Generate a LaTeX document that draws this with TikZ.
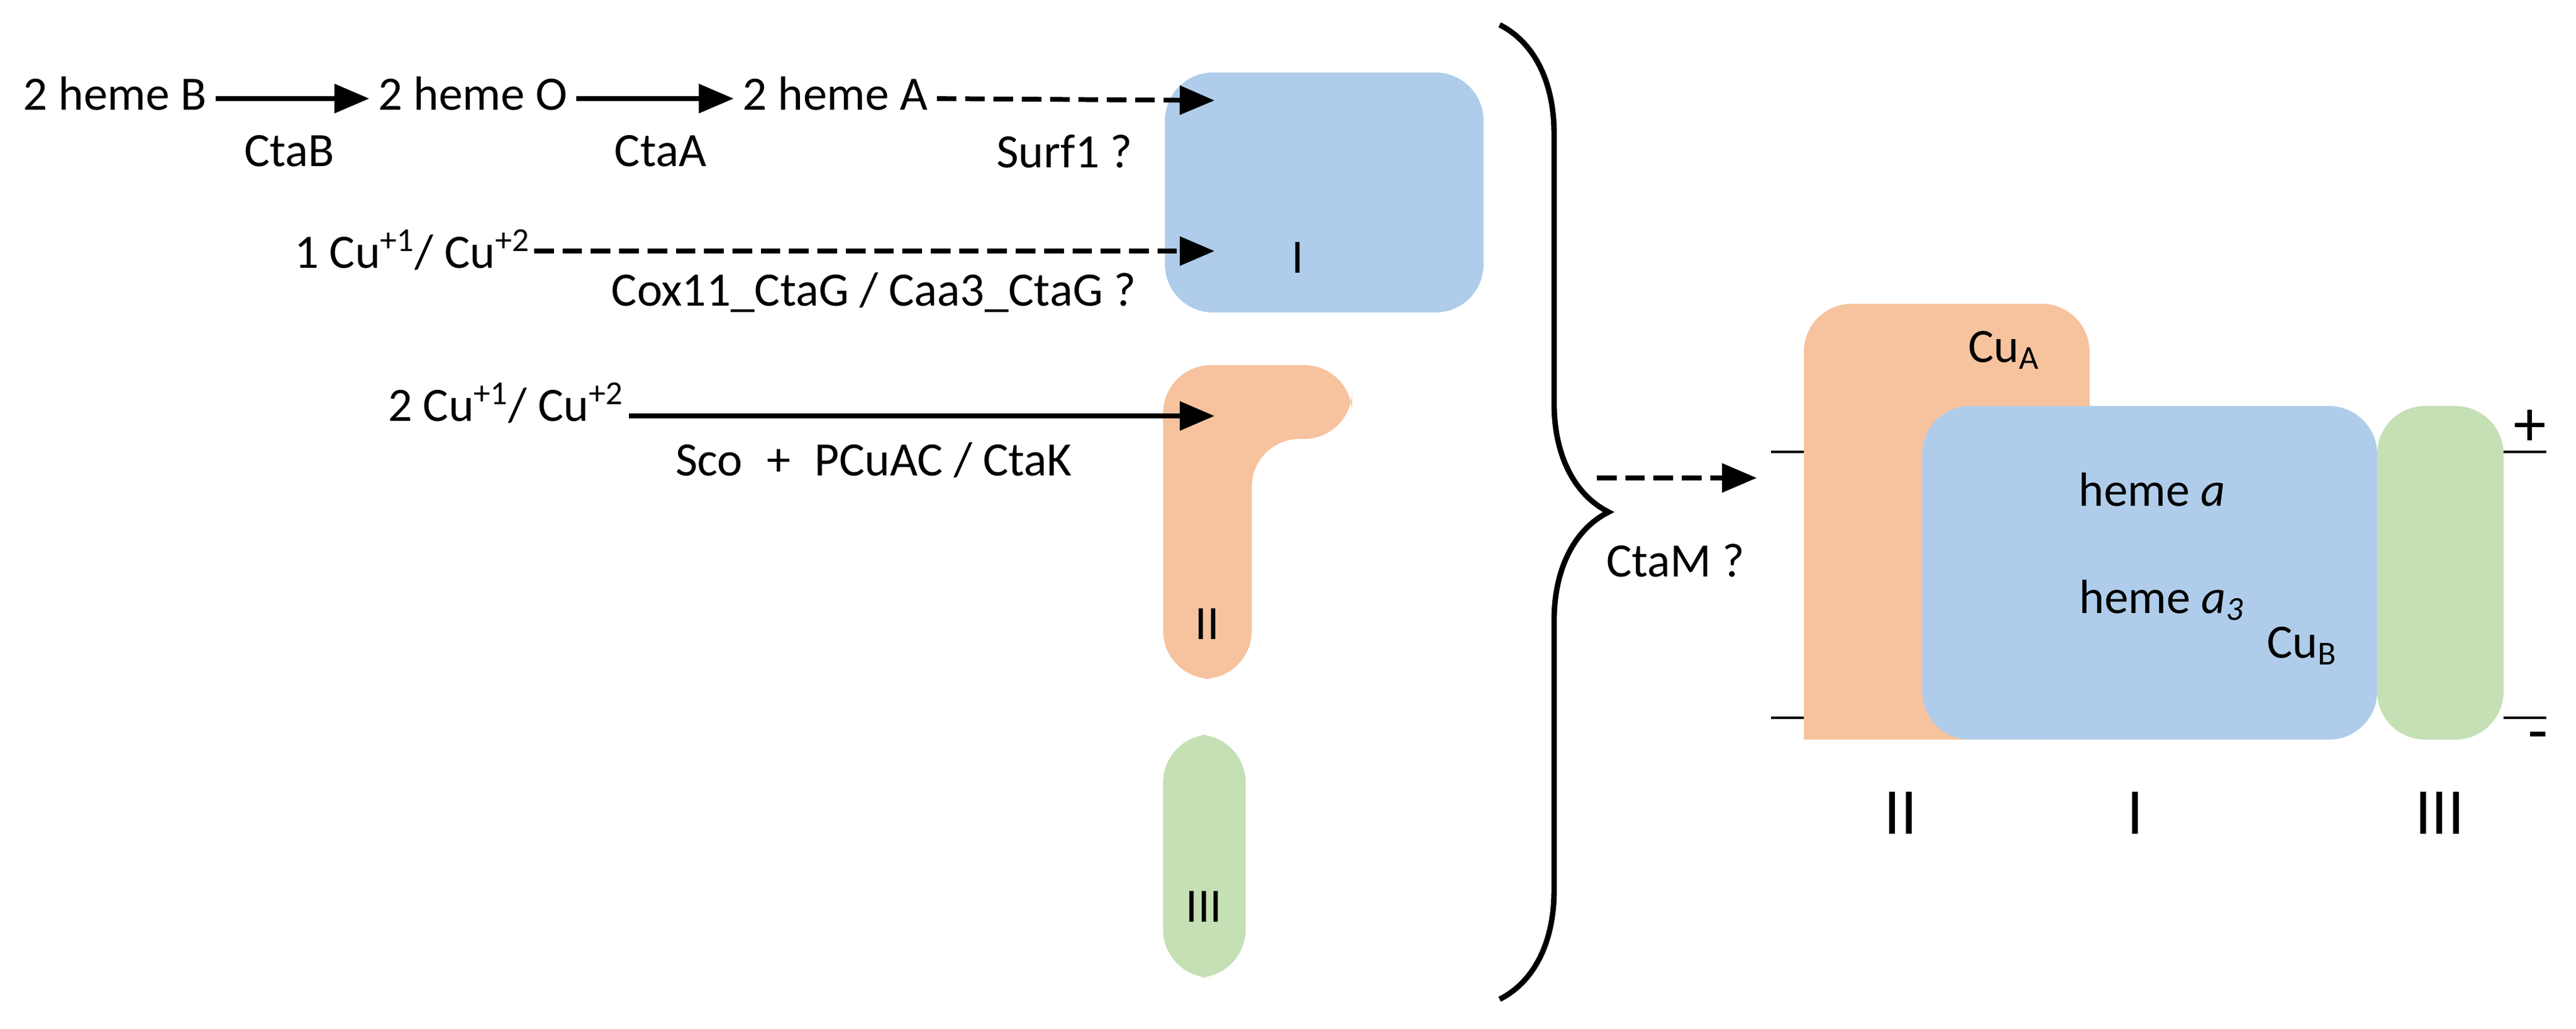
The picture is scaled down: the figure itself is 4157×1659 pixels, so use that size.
\documentclass[tikz,border=0pt]{standalone}
\usepackage{fontspec}
\setmainfont{Carlito}
\usetikzlibrary{arrows.meta,decorations.pathreplacing,calc}
\definecolor{cI}{HTML}{AFCDEA}
\definecolor{cII}{HTML}{F6C39E}
\definecolor{cIII}{HTML}{C5E0B4}
\begin{document}
\begin{tikzpicture}[x=0.01cm,y=-0.01cm,
  every node/.style={font=\fontsize{22}{26}\selectfont, inner sep=0pt},
  arr/.style={line width=2.2pt,-{Triangle[length=16pt,width=13pt]}},
  darr/.style={arr,dash pattern=on 9pt off 4pt},
  sub/.style={rounded corners=22pt}]
\useasboundingbox (0,0) rectangle (4157,1659);
% left subunits
\fill[cI,sub] (1880,117) rectangle (2394,504);
\node (I1) at (2094,416) {I};
\fill[cII,sub] (1877,589) -- (2182,589) -- (2182,708) -- (2020,708) -- (2020,1095) -- (1877,1095) -- cycle;
\node (II1) at (1948,1007) {II};
\fill[cIII,sub] (1877,1185) rectangle (2010,1577);
\node (III1) at (1943,1463) {III};
\coordinate (tA) at (1960,162);
\coordinate (tC) at (1960,405);
\coordinate (tO) at (1960,671);
% row 1
\node[anchor=west] (hB) at (37,151) {2 heme B};
\node[anchor=west] (hO) at (610,151) {2 heme O};
\node[anchor=west] (hA) at (1198,151) {2 heme A};
\draw[arr] ($(hB.east)+(14,8)$) -- ($(hO.west)+(-14,8)$);
\node (ctab) at (467,244) {CtaB};
\node (ctaa) at (1066,244) {CtaA};
\node (surf) at (1718,244) {Surf1 ?};
\draw[arr] ($(hO.east)+(14,8)$) -- ($(hA.west)+(-14,8)$);
\draw[darr] ($(hA.east)+(14,8)$) -- (tA);
% row 2
\node[anchor=east] (cu1) at (856,403) {1 Cu\textsuperscript{+1}/ Cu\textsuperscript{+2}};
\draw[darr] ($(cu1.east |- tC)+(6,0)$) -- (tC);
\node (cox) at (1410,472) {Cox11\_CtaG / Caa3\_CtaG ?};
% row 3
\node[anchor=east] (cu2) at (1007,650) {2 Cu\textsuperscript{+1}/ Cu\textsuperscript{+2}};
\draw[arr] ($(cu2.east |- tO)+(8,0)$) -- (tO);
\node (sco) at (1410,742) {Sco\enspace+\enspace PCuAC / CtaK};
% brace
\draw[line width=2.5pt,decorate,decoration={brace,amplitude=50pt,aspect=0.5}] (2420,40) -- (2420,1612);
\coordinate (m1) at (2577,771);
\coordinate (m2) at (2835,771);
\draw[darr] (m1) -- (m2);
\node (ctam) at (2704,904) {CtaM ?};
% right complex
\fill[cII,sub] (2911,490) rectangle (3372,1193);
\fill[cII] (2911,655) rectangle (3102,1193);
\fill[cI,sub] (3102,655) rectangle (3836,1193);
\fill[cIII,sub] (3836,655) rectangle (4040,1193);
\draw[line width=1.2pt] (2858,729) -- (2911,729) (2858,1158) -- (2911,1158)
  (4040,729) -- (4109,729) (4040,1158) -- (4109,1158);
\node (plus) at (4083,690) {\fontsize{30}{30}\selectfont +};
\node (minus) at (4096,1198) {\fontsize{30}{30}\selectfont -};
\node (cua) at (3234,565) {Cu\textsubscript{A}};
\node (ha) at (3473,790) {heme \textit{a}};
\node[anchor=west] (ha3) at (3355,968) {heme \textit{a\textsubscript{3}}};
\node (cub) at (3715,1042) {Cu\textsubscript{B}};
\node (II2) at (3067,1312) {\fontsize{30}{30}\selectfont II};
\node (I2) at (3446,1312) {\fontsize{30}{30}\selectfont I};
\node (III2) at (3937,1312) {\fontsize{30}{30}\selectfont III};
\end{tikzpicture}
\end{document}
